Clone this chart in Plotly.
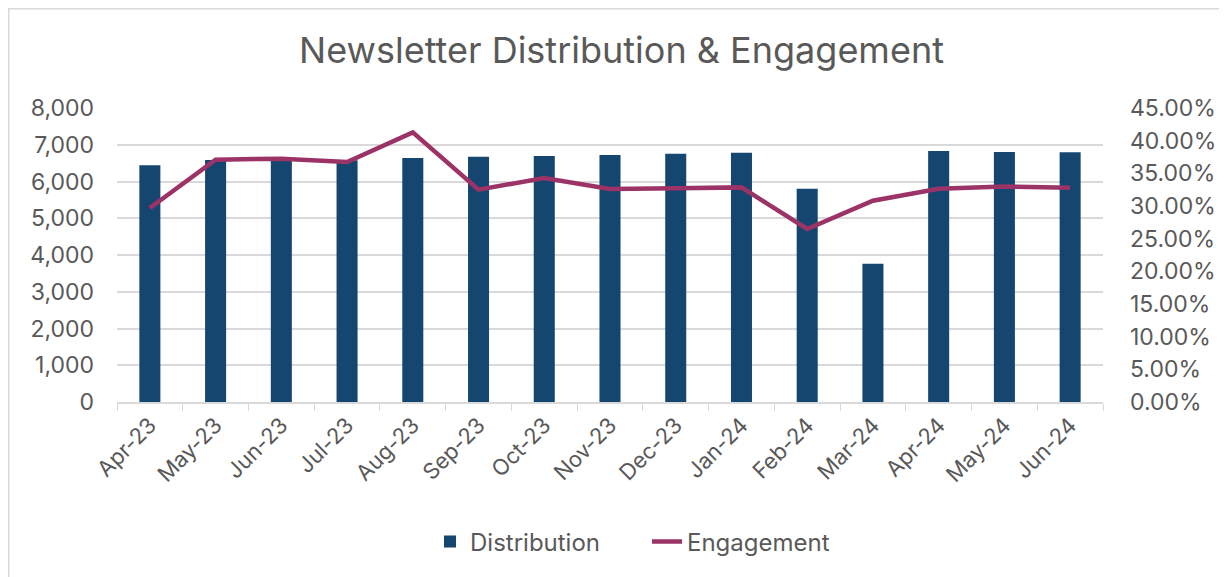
import plotly.graph_objects as go

months = ["Apr-23", "May-23", "Jun-23", "Jul-23", "Aug-23", "Sep-23", "Oct-23", "Nov-23",
          "Dec-23", "Jan-24", "Feb-24", "Mar-24", "Apr-24", "May-24", "Jun-24"]
distribution = [6440, 6585, 6620, 6580, 6640, 6675, 6693, 6720, 6756, 6784, 5804, 3763, 6830, 6802, 6793]
engagement = [0.2969, 0.3709, 0.3724, 0.3673, 0.4127, 0.3250, 0.3429, 0.3260, 0.3270, 0.3285, 0.2648, 0.3081, 0.3265, 0.3300, 0.3280]

left_ticks = [0, 1000, 2000, 3000, 4000, 5000, 6000, 7000, 8000]
right_ticks = [0, 0.05, 0.10, 0.15, 0.20, 0.25, 0.30, 0.35, 0.40, 0.45]

BAR = "#154670"
LINE = "#9B3366"
TXT = "#595959"
FONT = "Inter"

# plot area in figure pixels (page body adds an 8px offset)
L, R, T, B = 109, 1095, 100, 394
W, H = 1227, 577
PH = B - T
PW = R - L

fig = go.Figure()
fig.add_trace(go.Bar(x=months, y=distribution, name="Distribution", marker_color=BAR,
                     marker_line_width=0))
fig.add_trace(go.Scatter(x=months, y=engagement, name="Engagement", yaxis="y2",
                         mode="lines", line=dict(color=LINE, width=4.5)))

fig.update_layout(
    width=W, height=H,
    margin=dict(l=L, r=W - R, t=T, b=H - B, autoexpand=False),
    paper_bgcolor="white", plot_bgcolor="white",
    font=dict(family=FONT, color=TXT, size=22),
    title=dict(text="Newsletter Distribution & Engagement", x=0.5, xanchor="center",
               y=1 - 42 / H, yanchor="middle", font=dict(size=36, color=TXT, family=FONT)),
    bargap=0.68,
    showlegend=True,
    legend=dict(orientation="h", x=(422 - L) / PW, xanchor="left", y=-(534 - B) / PH, yanchor="middle",
                font=dict(size=24, color=TXT), tracegroupgap=0,
                entrywidth=172, entrywidthmode="pixels",
                bgcolor="rgba(0,0,0,0)"),
    xaxis=dict(type="category", tickangle=-45, showgrid=False, showline=True,
               linecolor="#D9D9D9", linewidth=1.5, ticks="outside", tickson="boundaries",
               ticklen=7, tickcolor="#D9D9D9", tickfont=dict(size=22, color=TXT)),
    yaxis=dict(range=[0, 8000], tickvals=left_ticks, tickformat=",d", showgrid=True,
               gridcolor="#D9D9D9", gridwidth=1.5, zeroline=False, showline=False,
               ticks="", ticklabelstandoff=22, tickfont=dict(size=23, color=TXT)),
    yaxis2=dict(range=[0, 0.45], tickvals=right_ticks, tickformat=".2%", overlaying="y",
                side="right", showgrid=False, zeroline=False, showline=False, ticks="",
                ticklabelstandoff=26, tickfont=dict(size=23, color=TXT)),
    shapes=[dict(type="rect", xref="paper", yref="paper",
                 x0=(0.75 - L) / PW, x1=1.3, y0=-1.0, y1=(B - 0.75) / PH,
                 line=dict(color="#D9D9D9", width=1.5), fillcolor="rgba(0,0,0,0)", layer="below")],
)

fig.write_html("out.html")
